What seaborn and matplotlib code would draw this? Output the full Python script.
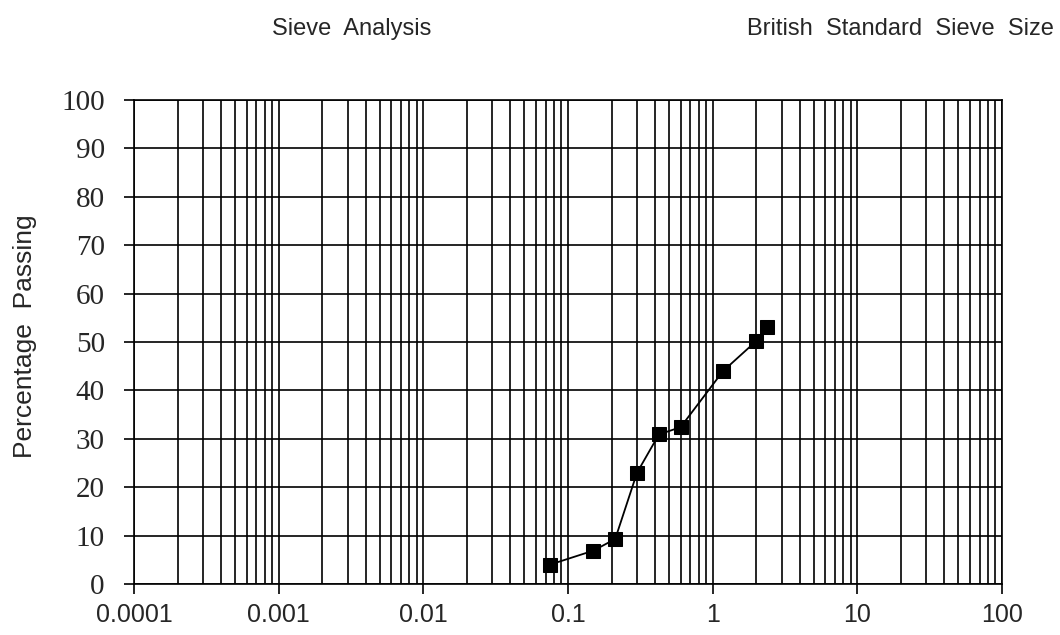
import numpy as np
import pandas as pd
import seaborn as sns
from matplotlib import pyplot as plt
from matplotlib.ticker import LogLocator, FixedLocator, NullFormatter

# sieve sizes (mm) and percentage passing
sieve_size = [0.075, 0.15, 0.212, 0.3, 0.425, 0.6, 1.18, 2.0, 2.36]
passing = [4.0, 6.9, 9.3, 23.0, 30.9, 32.4, 44.0, 50.2, 53.0]
x_ticks = [0.0001, 0.001, 0.01, 0.1, 1, 10, 100]
x_tick_labels = ["0.0001", "0.001", "0.01", "0.1", "1", "10", "100"]
y_ticks = list(range(0, 101, 10))

df = pd.DataFrame({"size": sieve_size, "passing": passing})

sns.set_style("white")

fig = plt.figure(figsize=(10.6, 6.35), dpi=100)
ax = fig.add_axes([0.1264, 0.0803, 0.8189, 0.7622])

sns.lineplot(data=df, x="size", y="passing", ax=ax, color="black",
             linewidth=1.3, marker="s", markersize=10,
             markeredgecolor="black", markerfacecolor="black")

ax.set_xscale("log")
ax.set_xlim(0.0001, 100)
ax.set_ylim(0, 100)

ax.xaxis.set_major_locator(FixedLocator(x_ticks))
ax.set_xticklabels(x_tick_labels, fontfamily="Liberation Sans", fontsize=18)
ax.xaxis.set_minor_locator(LogLocator(base=10, subs=np.arange(2, 10)))
ax.xaxis.set_minor_formatter(NullFormatter())
ax.set_yticks(y_ticks)
ax.set_yticklabels([str(v) for v in y_ticks], fontfamily="Liberation Serif", fontsize=21)

ax.grid(True, which="both", axis="x", color="black", linewidth=1.2)
ax.grid(True, which="major", axis="y", color="black", linewidth=1.2)
ax.set_axisbelow(True)

ax.tick_params(axis="x", which="major", direction="out", length=7, width=1.2,
               color="black", bottom=True, pad=7)
ax.tick_params(axis="x", which="minor", length=0)
ax.tick_params(axis="y", which="major", direction="out", length=7, width=1.2,
               color="black", left=True, pad=14)

for s in ax.spines.values():
    s.set_color("black")
    s.set_linewidth(1.2)

ax.set_xlabel("")
ax.set_ylabel("")

fig.text(25 / 1060, 1 - 336 / 635, "Percentage  Passing", rotation=90,
         ha="center", va="center", fontfamily="Liberation Sans", fontsize=19)
fig.text(272 / 1060, 1 - 29 / 635, "Sieve  Analysis", ha="left", va="center",
         fontfamily="Liberation Sans", fontsize=17)
fig.text(1054 / 1060, 1 - 29 / 635, "British  Standard  Sieve  Size", ha="right",
         va="center", fontfamily="Liberation Sans", fontsize=17)

plt.savefig("out.png", dpi=100)
